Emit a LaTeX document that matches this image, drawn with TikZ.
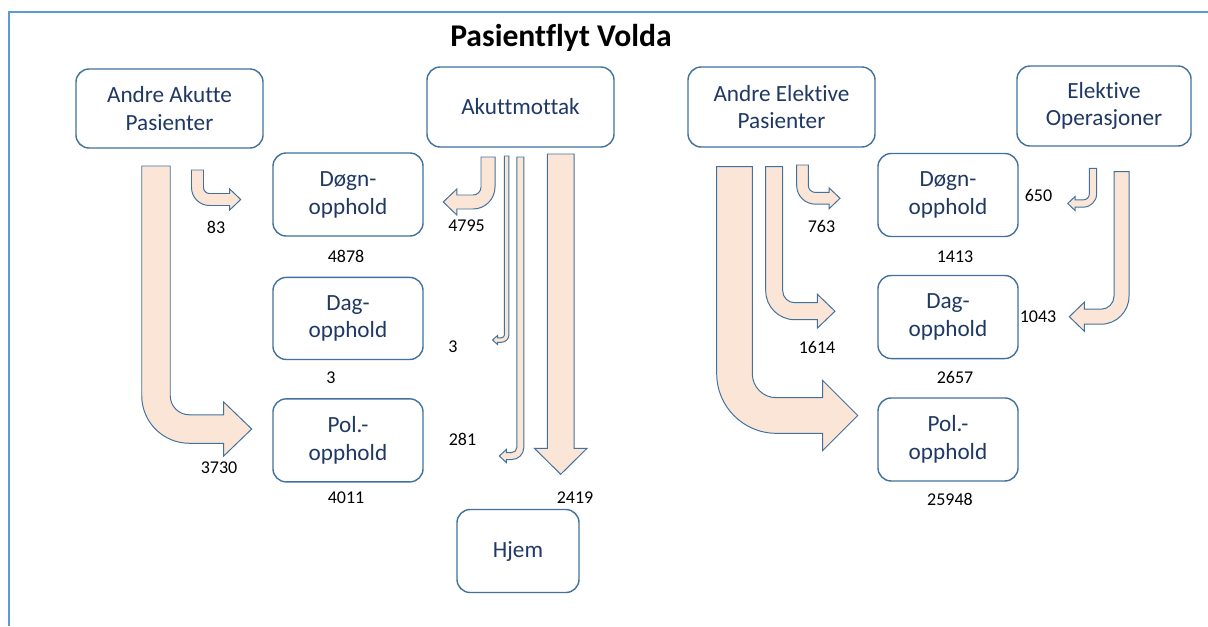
\documentclass[tikz,border=0pt]{standalone}
\usepackage{fontspec}
\setmainfont{Carlito}[Ligatures=NoCommon]
\usetikzlibrary{positioning}

\definecolor{boxline}{HTML}{41719C}
\definecolor{boxtext}{HTML}{1F3864}
\definecolor{flowfill}{HTML}{FBE5D6}
\definecolor{frameblue}{HTML}{5B9BD5}

% bent block arrow: shaft x, top, width, bend y, tip x, head half, head length, inner radius, side (1 right, -1 left)
\newcommand{\bentflow}[9]{%
  \pgfmathsetmacro\fXo{#1-(#9)*(#3)/2}
  \pgfmathsetmacro\fXi{#1+(#9)*(#3)/2}
  \pgfmathsetmacro\fYo{#4+(#3)/2}
  \pgfmathsetmacro\fYi{#4-(#3)/2}
  \pgfmathsetmacro\fRo{#8+#3}
  \pgfmathsetmacro\fXb{#5-(#9)*(#7)}
  \pgfmathsetmacro\fYa{\fYo-\fRo}
  \pgfmathsetmacro\fYc{\fYo-0.448*\fRo}
  \pgfmathsetmacro\fXc{\fXo+(#9)*0.448*\fRo}
  \pgfmathsetmacro\fXd{\fXo+(#9)*\fRo}
  \pgfmathsetmacro\fXe{\fXi+(#9)*(#8)}
  \pgfmathsetmacro\fXf{\fXi+(#9)*0.448*(#8)}
  \pgfmathsetmacro\fYf{\fYi-0.448*(#8)}
  \pgfmathsetmacro\fYg{\fYi-(#8)}
  \filldraw[flow] (\fXo,#2) -- (\fXo,\fYa) .. controls (\fXo,\fYc) and (\fXc,\fYo) .. (\fXd,\fYo)
    -- (\fXb,\fYo) -- (\fXb,#4+#6) -- (#5,#4) -- (\fXb,#4-#6) -- (\fXb,\fYi)
    -- (\fXe,\fYi) .. controls (\fXf,\fYi) and (\fXi,\fYf) .. (\fXi,\fYg) -- (\fXi,#2) -- cycle;
}

\begin{document}
\begin{tikzpicture}[x=0.025cm, y=-0.025cm,
  boxnode/.style={rectangle, rounded corners=0.33cm, draw=boxline, line width=1pt, fill=white,
    text=boxtext, align=center, inner sep=0pt, font=\fontsize{16.5}{19.8}\selectfont},
  numnode/.style={inner sep=0pt, font=\fontsize{12.8}{15}\selectfont},
  flow/.style={fill=flowfill, draw=boxline, line width=0.7pt, line join=miter}]

  \useasboundingbox (0,0) rectangle (1208,626);
  \draw[frameblue, line width=1.4pt] (9,626) -- (9,12) -- (1208,12);

  \node[font=\fontsize{22.5}{27}\selectfont\bfseries] (title) at (561,38) {Pasientflyt Volda};

  % sources
  \node[boxnode, minimum width=4.675cm, minimum height=1.975cm] (akutte) at (169.5,108.5) {Andre Akutte\\Pasienter};
  \node[boxnode, minimum width=4.675cm, minimum height=2cm] (mottak) at (520.5,107) {Akuttmottak};
  \node[boxnode, minimum width=4.675cm, minimum height=2cm] (elektiv) at (781.5,107) {Andre Elektive\\Pasienter};
  \node[boxnode, minimum width=4.35cm, minimum height=2cm] (operasjon) at (1104,106) {Elektive\\Operasjoner};

  % left stack
  \node[boxnode, minimum width=3.75cm, minimum height=2.075cm] (dognA) at (348,194.5) {Døgn-\\opphold};
  \node[boxnode, minimum width=3.75cm, minimum height=2.05cm] (dagA) [below=1cm of dognA] {Dag-\\opphold};
  \node[boxnode, minimum width=3.75cm, minimum height=2.075cm] (polA) [below=0.95cm of dagA] {Pol.-\\opphold};
  \node[boxnode, minimum width=3.05cm, minimum height=2.075cm] (hjem) at (518,551) {Hjem};

  % right stack
  \node[boxnode, minimum width=3.5cm, minimum height=2.075cm] (dognE) at (948,195) {Døgn-\\opphold};
  \node[boxnode, minimum width=3.5cm, minimum height=2.075cm] (dagE) [below=0.94cm of dognE] {Dag-\\opphold};
  \node[boxnode, minimum width=3.5cm, minimum height=2.075cm] (polE) [below=0.95cm of dagE] {Pol.-\\opphold};

  % flows from Andre Akutte Pasienter
  \bentflow{197.5}{170}{12}{199.5}{240.7}{10.5}{11}{6}{1}
  \bentflow{156}{166}{28.5}{429}{251.7}{27}{28}{19}{1}
  % flows from Akuttmottak
  \bentflow{488}{157}{14}{202}{443.3}{13}{13.5}{8}{-1}
  \bentflow{506.7}{156}{4.5}{340}{492.5}{4.5}{5}{3}{-1}
  \bentflow{520.3}{157}{7}{456}{499.3}{6.5}{7}{5}{-1}
  \filldraw[flow] (547.3,154) -- (574,154) -- (574,448.3) -- (587,448.3) -- (560.7,474.3)
    -- (534.4,448.3) -- (547.3,448.3) -- cycle;
  % flows from Andre Elektive Pasienter
  \bentflow{802.5}{165}{11.7}{198.3}{840}{10.5}{11}{7}{1}
  \bentflow{774.2}{166.7}{17}{311.2}{835}{17}{17.7}{12}{1}
  \bentflow{734.5}{166.7}{35.6}{415.5}{857.7}{35}{35}{24}{1}
  % flows from Elektive Operasjoner
  \bentflow{1093}{168.3}{7.3}{203.5}{1067.7}{7}{7.3}{6}{-1}
  \bentflow{1121.5}{171.7}{15}{316.7}{1069.3}{14.5}{15}{13}{-1}

  % counts
  \node[numnode] (n83) at (216,227) {83};
  \node[numnode] (n4878) at (346,256.5) {4878};
  \node[numnode] (n4795) at (466.5,226) {4795};
  \node[numnode] (n3a) at (453,347) {3};
  \node[numnode] (n3b) at (331,378) {3};
  \node[numnode] (n281) at (462.5,439) {281};
  \node[numnode] (n3730) at (219,468) {3730};
  \node[numnode] (n4011) at (346,498) {4011};
  \node[numnode] (n2419) at (575,498) {2419};
  \node[numnode] (n763) at (821.5,226.5) {763};
  \node[numnode] (n650) at (1038.5,195.5) {650};
  \node[numnode] (n1413) at (955,256.5) {1413};
  \node[numnode] (n1614) at (817,347) {1614};
  \node[numnode] (n1043) at (1038,317) {1043};
  \node[numnode] (n2657) at (955,377) {2657};
  \node[numnode] (n25948) at (950,499) {25948};

\end{tikzpicture}
\end{document}
